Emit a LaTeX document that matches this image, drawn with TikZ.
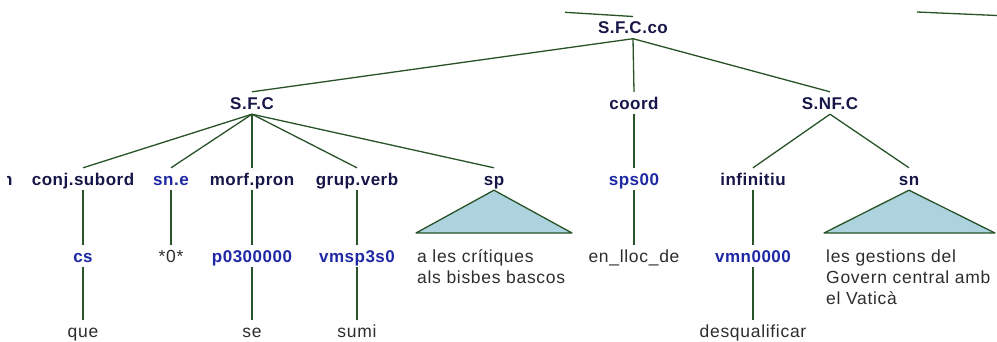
\documentclass[tikz,border=0pt]{standalone}
\usepackage{fontspec}
\setmainfont{Liberation Sans}
\newfontfamily\catfont{Liberation Sans}[LetterSpace=3]
\newfontfamily\leaffont{Liberation Sans}[LetterSpace=4]
\definecolor{catcol}{RGB}{22,22,72}
\definecolor{tagcol}{RGB}{30,40,165}
\definecolor{leafcol}{RGB}{45,45,45}
\definecolor{edgecol}{RGB}{40,82,40}
\definecolor{trifill}{RGB}{173,211,223}
\tikzset{
  cat/.style={font=\catfont\bfseries\fontsize{17}{20}\selectfont, text=catcol, anchor=base,
    inner xsep=0pt, inner ysep=4pt, text height=13pt, text depth=1pt},
  tag/.style={cat, text=tagcol},
  leaf/.style={font=\leaffont\fontsize{17.5}{21}\selectfont, text=leafcol, anchor=base,
    inner xsep=0pt, inner ysep=4pt, text height=13pt, text depth=1pt},
  leafblock/.style={font=\leaffont\fontsize{17.5}{21}\selectfont, text=leafcol, anchor=base west,
    inner sep=0pt},
  edge/.style={draw=edgecol, line width=1.3pt},
  tri/.style={draw=edgecol, line width=1.3pt, fill=trifill, line join=round},
}
\begin{document}
\begin{tikzpicture}[x=1pt,y=-1pt]
\useasboundingbox (0,0) rectangle (997,341);
% level 1
\node[cat] (sfcco) at (633,33.5) {S.F.C.co};
% level 2
\node[cat] (sfc) at (252,109) {S.F.C};
\node[cat] (coord) at (634,109) {coord};
\node[cat] (snfc) at (830,109) {S.NF.C};
% level 3
\begin{scope}
\clip (7,150) rectangle (30,200);
\node[cat, anchor=base east] (cutn) at (12.8,185) {n};
\end{scope}
\node[cat] (conj) at (83,185) {conj.subord};
\node[tag] (sne) at (171,185) {sn.e};
\node[cat] (morf) at (252,185) {morf.pron};
\node[cat] (grup) at (357,185) {grup.verb};
\node[cat] (sp) at (494,185) {sp};
\node[tag] (sps) at (634,185) {sps00};
\node[cat] (inf) at (753,185) {infinitiu};
\node[cat] (sn) at (909,185) {sn};
% level 4
\node[tag] (cs) at (83,262) {cs};
\node[leaf] (zero) at (171,262) {*0*};
\node[tag] (pron) at (252,262) {p0300000};
\node[tag] (vmsp) at (357,262) {vmsp3s0};
\node[leafblock] (spleaf) at (417,262) {\begin{tabular}[t]{@{}l@{}}a les crítiques\\als bisbes bascos\end{tabular}};
\node[leaf] (lloc) at (634,262) {en\_lloc\_de};
\node[tag] (vmn) at (753,262) {vmn0000};
\node[leafblock] (snleaf) at (826,262) {\begin{tabular}[t]{@{}l@{}}les gestions del\\Govern central amb\\el Vaticà\end{tabular}};
% level 5
\node[leaf] (que) at (83,337) {que};
\node[leaf] (se) at (252,337) {se};
\node[leaf] (sumi) at (357,337) {sumi};
\node[leaf] (desq) at (753,337) {desqualificar};
% triangle corners and free ends
\coordinate (spL) at (416,233);
\coordinate (spR) at (572,233);
\coordinate (snL) at (824,233);
\coordinate (snR) at (995,233);
\coordinate (topA) at (565,12.3);
\coordinate (topB) at (633,16.5);
\coordinate (topC) at (917,12);
\coordinate (topD) at (997,15.5);
% edges
\draw[edge] (topA) -- (topB);
\draw[edge] (topC) -- (topD);
\draw[edge] (sfcco.south) -- (sfc.north);
\draw[edge] (sfcco.south) -- (coord.north);
\draw[edge] (sfcco.south) -- (snfc.north);
\foreach \c in {conj,sne,morf,grup,sp} \draw[edge] (sfc.south) -- (\c.north);
\draw[edge] (coord.south) -- (sps.north);
\draw[edge] (snfc.south) -- (inf.north);
\draw[edge] (snfc.south) -- (sn.north);
\draw[edge] (conj.south) -- (cs.north);
\draw[edge] (sne.south) -- (zero.north);
\draw[edge] (morf.south) -- (pron.north);
\draw[edge] (grup.south) -- (vmsp.north);
\draw[edge] (sps.south) -- (lloc.north);
\draw[edge] (inf.south) -- (vmn.north);
\draw[edge] (cs.south) -- (que.north);
\draw[edge] (pron.south) -- (se.north);
\draw[edge] (vmsp.south) -- (sumi.north);
\draw[edge] (vmn.south) -- (desq.north);
\draw[tri] (sp.south) -- (spL) -- (spR) -- cycle;
\draw[tri] (sn.south) -- (snL) -- (snR) -- cycle;
\end{tikzpicture}
\end{document}
